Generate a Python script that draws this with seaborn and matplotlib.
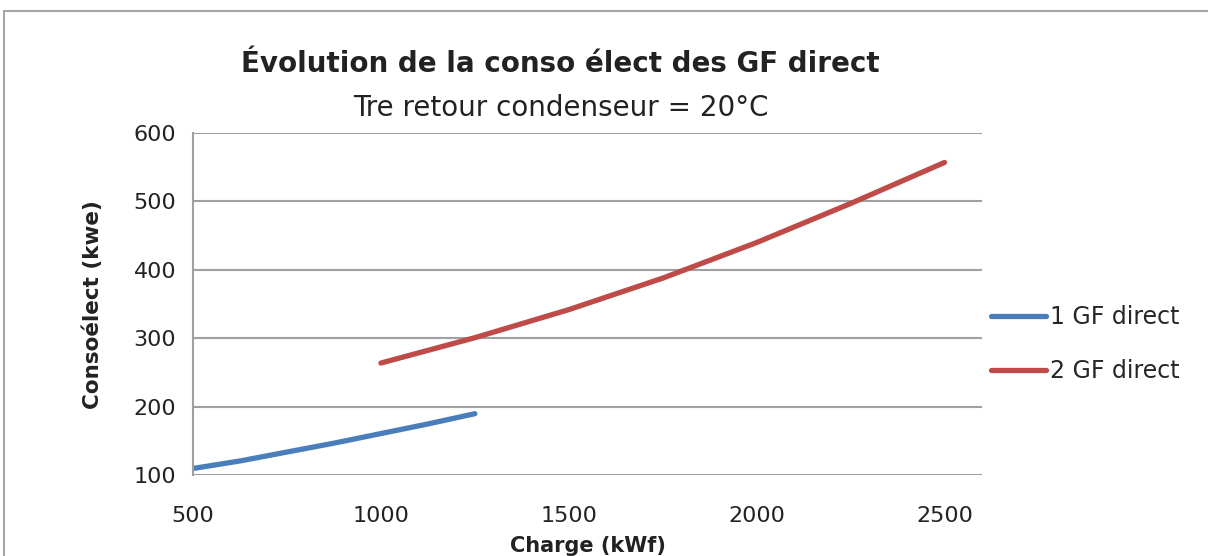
import matplotlib
matplotlib.use('Agg')
import matplotlib.pyplot as plt
import pandas as pd
import seaborn as sns
from matplotlib.patches import Rectangle

# data
charge_1gf = [500, 625, 750, 875, 1000, 1125, 1250]
conso_1gf = [110, 121, 134, 147, 161, 175, 190]
charge_2gf = [1000, 1250, 1500, 1750, 2000, 2250, 2500]
conso_2gf = [264, 301, 342, 388, 440, 497, 557]
series_names = ['1 GF direct', '2 GF direct']
series_colors = ['#4A7EBB', '#BE4B48']
x_ticks = [500, 1000, 1500, 2000, 2500]
y_ticks = [100, 200, 300, 400, 500, 600]

df = pd.concat([
    pd.DataFrame({'charge': charge_1gf, 'conso': conso_1gf, 'serie': series_names[0]}),
    pd.DataFrame({'charge': charge_2gf, 'conso': conso_2gf, 'serie': series_names[1]}),
])

sns.set_theme(style='white')
plt.rcParams['font.family'] = ['DejaVu Sans']

fig = plt.figure(figsize=(12.08, 5.56), dpi=100)
ax = fig.add_axes([0.1598, 0.1451, 0.6532, 0.6157])

sns.lineplot(data=df, x='charge', y='conso', hue='serie',
             palette=dict(zip(series_names, series_colors)),
             linewidth=3.8, ax=ax, legend=False, sort=False)
for line in ax.lines:
    line.set_solid_capstyle('round')

ax.set_xlim(500, 2600)
ax.set_ylim(100, 600)
ax.set_xticks(x_ticks)
ax.set_yticks(y_ticks)
ax.tick_params(axis='both', length=0, labelsize=16, colors='#222222')
ax.tick_params(axis='x', pad=22)
ax.tick_params(axis='y', pad=12)
ax.grid(axis='y', color='#A0A0A0', linewidth=1.5)
ax.set_axisbelow(True)
for side in ['top', 'right', 'bottom']:
    ax.spines[side].set_visible(False)
ax.spines['left'].set_color('#A0A0A0')
ax.spines['left'].set_linewidth(1.5)

ax.set_xlabel('Charge (kWf)', fontsize=15, fontweight='bold', color='#222222', va='center')
ax.xaxis.set_label_coords(0.5, -0.205)
ax.set_ylabel('Consoélect (kwe)', fontsize=15.5, fontweight='bold', labelpad=22, color='#222222')

fig.text(0.464, 0.885, 'Évolution de la conso élect des GF direct',
         ha='center', va='center', fontsize=20, fontweight='bold', color='#222222')
fig.text(0.464, 0.806, 'Tre retour condenseur = 20°C',
         ha='center', va='center', fontsize=20, color='#222222')

handles = [plt.Line2D([], [], color=c, linewidth=3.8, solid_capstyle='round')
           for c in series_colors]
fig.legend(handles, series_names, loc='center left', bbox_to_anchor=(0.803, 0.381),
           frameon=False, fontsize=17, handlelength=2.3, handletextpad=0.2,
           labelspacing=1.25)

# chart area border
fig.patches.append(Rectangle((4 / 1208, -0.1), 1.2, 1.1 - 11 / 556,
                             transform=fig.transFigure, fill=False,
                             edgecolor='#A6A6A6', linewidth=1.5))

fig.savefig('out.png', dpi=100)
